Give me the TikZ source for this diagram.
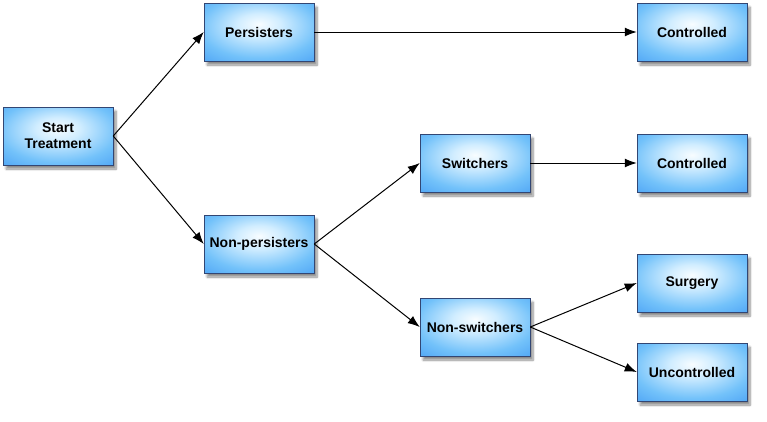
\documentclass[tikz,border=0pt]{standalone}
\usepackage{fontspec}
\setmainfont{Liberation Sans}
\usetikzlibrary{arrows.meta, positioning, shadows.blur}
\definecolor{boxBorder}{RGB}{50,70,115}
\pgfdeclareradialshading{boxglow}{\pgfpoint{0bp}{7bp}}{%
  rgb(0bp)=(0.97,0.99,1);
  rgb(10bp)=(0.82,0.93,1);
  rgb(27bp)=(0.45,0.76,0.98);
  rgb(40bp)=(0.30,0.64,0.96);
  rgb(52bp)=(0.20,0.48,0.90);
  rgb(72bp)=(0.10,0.24,0.68)}
\tikzset{
  box/.style={rectangle, draw=boxBorder, line width=0.5pt, shading=boxglow,
    minimum width=110pt, minimum height=58pt, align=center,
    font=\fontsize{14}{16}\selectfont\bfseries,
    blur shadow={shadow xshift=3pt, shadow yshift=-4pt, shadow blur steps=8, shadow opacity=45}},
  link/.style={-{Latex[length=12pt, width=9pt]}, line width=1pt, black}
}
\begin{document}
\begin{tikzpicture}[x=1pt, y=1pt]
\useasboundingbox (0,0) rectangle (767,-421);
\node[box] (start) at (58,-136) {Start\\Treatment};
\node[box] (pers) at (259,-32) {Persisters};
\node[box] (nonpers) at (259,-244) {Non-persisters};
\node[box] (switch) at (475,-163) {Switchers};
\node[box] (nonswitch) at (475,-327) {Non-switchers};
\node[box] (ctrlA) at (692,-32) {Controlled};
\node[box] (ctrlB) at (692,-163) {Controlled};
\node[box] (surgery) at (692,-283) {Surgery};
\node[box] (unctrl) at (692,-372) {Uncontrolled};
% connectors
\draw[link] (start.east) -- (pers.west);
\draw[link] (start.east) -- (nonpers.west);
\draw[link] (pers.east) -- (ctrlA.west);
\draw[link] (nonpers.east) -- (switch.west);
\draw[link] (nonpers.east) -- (nonswitch.west);
\draw[link] (switch.east) -- (ctrlB.west);
\draw[link] (nonswitch.east) -- (surgery.west);
\draw[link] (nonswitch.east) -- (unctrl.west);
\end{tikzpicture}
\end{document}
